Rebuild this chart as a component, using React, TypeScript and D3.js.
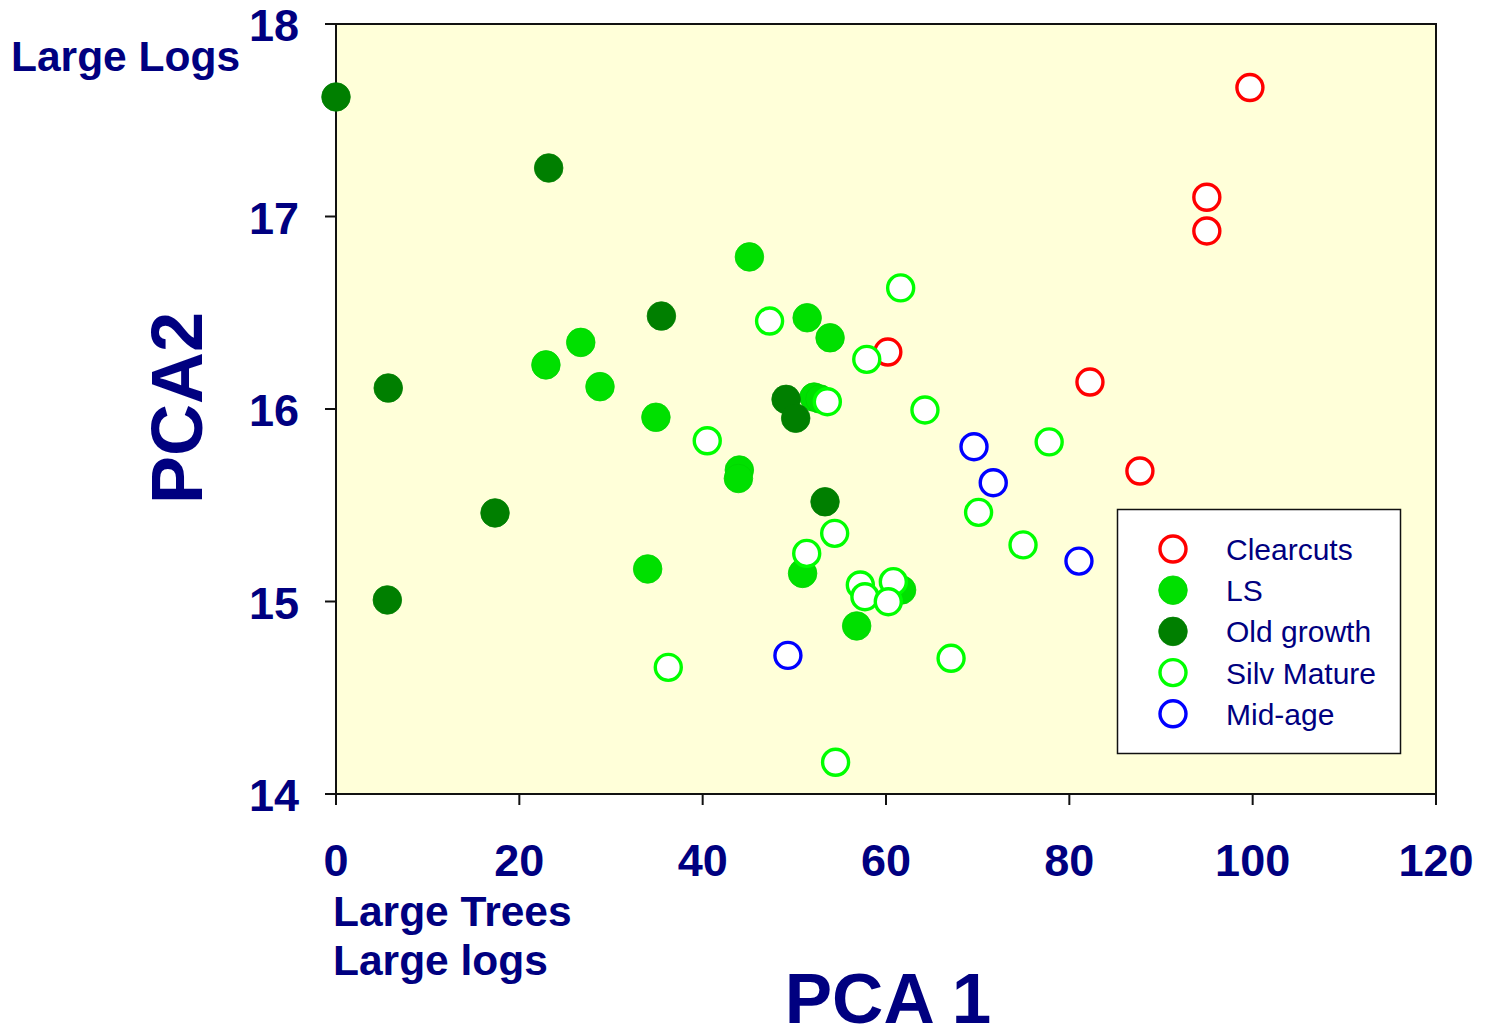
import React from 'react';
import * as d3 from 'd3';

// PCA scores, per stand type
const clearcuts: [number, number][] = [
  [99.7, 17.67], [95.0, 17.10], [95.0, 16.925], [60.2, 16.296], [82.25, 16.14], [87.7, 15.678],
];
const ls: [number, number][] = [
  [45.1, 16.79], [26.7, 16.346], [22.9, 16.229], [28.8, 16.116], [51.4, 16.474], [53.9, 16.37],
  [34.9, 15.957], [44.0, 15.683], [43.9, 15.639], [52.15, 16.062], [52.8, 16.052], [34.0, 15.169],
  [50.9, 15.146], [61.7, 15.06], [56.8, 14.873],
];
const oldGrowth: [number, number][] = [
  [0, 17.621], [23.2, 17.252], [35.5, 16.483], [5.7, 16.109], [49.1, 16.05], [50.15, 15.952],
  [53.35, 15.518], [17.35, 15.46], [5.6, 15.008],
];
const silvMature: [number, number][] = [
  [61.6, 16.629], [47.3, 16.457], [57.9, 16.258], [53.6, 16.038], [64.25, 15.995], [40.5, 15.835],
  [77.8, 15.829], [70.1, 15.463], [54.4, 15.354], [51.35, 15.25], [74.95, 15.294], [57.2, 15.086],
  [57.7, 15.025], [60.8, 15.103], [60.25, 14.999], [67.1, 14.705], [36.25, 14.658], [54.5, 14.165],
];
const midAge: [number, number][] = [
  [49.3, 14.72], [69.6, 15.804], [71.7, 15.617], [81.05, 15.21],
];

const xTicks = [0, 20, 40, 60, 80, 100, 120];
const yTicks = [14, 15, 16, 17, 18];

const navy = '#000080';

const series = [
  { name: 'Clearcuts', data: clearcuts, fill: '#ffffff', stroke: '#ff0000', open: true },
  { name: 'LS', data: ls, fill: '#00e000', stroke: '#00d400', open: false },
  { name: 'Old growth', data: oldGrowth, fill: '#007f00', stroke: '#007f00', open: false },
  { name: 'Silv Mature', data: silvMature, fill: '#ffffff', stroke: '#00ff00', open: true },
  { name: 'Mid-age', data: midAge, fill: '#ffffff', stroke: '#0000ff', open: true },
];

export default function App() {
  const x = d3.scaleLinear().domain([0, 120]).range([336, 1436]);
  const y = d3.scaleLinear().domain([14, 18]).range([794, 24]);
  const font = 'Arial, "Liberation Sans", sans-serif';

  const marker = (s: typeof series[number], cx: number, cy: number, key: string | number) =>
    s.open ? (
      <circle key={key} cx={cx} cy={cy} r={13} fill={s.fill} stroke={s.stroke} strokeWidth={3.4} />
    ) : (
      <circle key={key} cx={cx} cy={cy} r={14.3} fill={s.fill} stroke={s.stroke} strokeWidth={0.8} />
    );

  return (
    <svg width={1493} height={1031} style={{ position: 'absolute', left: 0, top: 0 }} fontFamily={font}>
      <rect x={0} y={0} width={1493} height={1031} fill="#ffffff" />
      <rect x={x(0)} y={y(18)} width={x(120) - x(0)} height={y(14) - y(18)} fill="#ffffd9" stroke="#111" strokeWidth={2} />

      {/* ticks */}
      {xTicks.map(t => (
        <g key={'x' + t}>
          <line x1={x(t)} x2={x(t)} y1={y(14)} y2={y(14) + 11} stroke="#111" strokeWidth={2} />
          <text x={x(t)} y={876} textAnchor="middle" fontSize={45} fontWeight="bold" fill={navy}>{t}</text>
        </g>
      ))}
      {yTicks.map(t => (
        <g key={'y' + t}>
          <line x1={x(0) - 11} x2={x(0)} y1={y(t)} y2={y(t)} stroke="#111" strokeWidth={2} />
          <text x={299} y={y(t) + 17} textAnchor="end" fontSize={45} fontWeight="bold" fill={navy}>{t}</text>
        </g>
      ))}

      {/* points */}
      {series.map(s => (
        <g key={s.name}>{s.data.map((d, i) => marker(s, x(d[0]), y(d[1]), i))}</g>
      ))}

      {/* legend */}
      <rect x={1117.5} y={509.5} width={283} height={244} fill="#ffffff" stroke="#111" strokeWidth={1.5} />
      {series.map((s, i) => (
        <g key={'l' + s.name}>
          {marker(s, 1173, 549 + i * 41.2, 'm')}
          <text x={1226} y={549 + i * 41.2 + 11} fontSize={30} fill={navy}>{s.name}</text>
        </g>
      ))}

      {/* axis titles */}
      <text x={176} y={408} transform="rotate(-90 176 408)" dy={26} textAnchor="middle" fontSize={72} fontWeight="bold" fill={navy}>PCA2</text>
      <text x={888} y={1023} textAnchor="middle" fontSize={71} fontWeight="bold" fill={navy}>PCA 1</text>
      <text x={11} y={71} fontSize={42.5} fontWeight="bold" fill={navy}>Large Logs</text>
      <text x={333} y={926} fontSize={42.5} fontWeight="bold" fill={navy}>Large Trees</text>
      <text x={333} y={975} fontSize={42.5} fontWeight="bold" fill={navy}>Large logs</text>
    </svg>
  );
}
